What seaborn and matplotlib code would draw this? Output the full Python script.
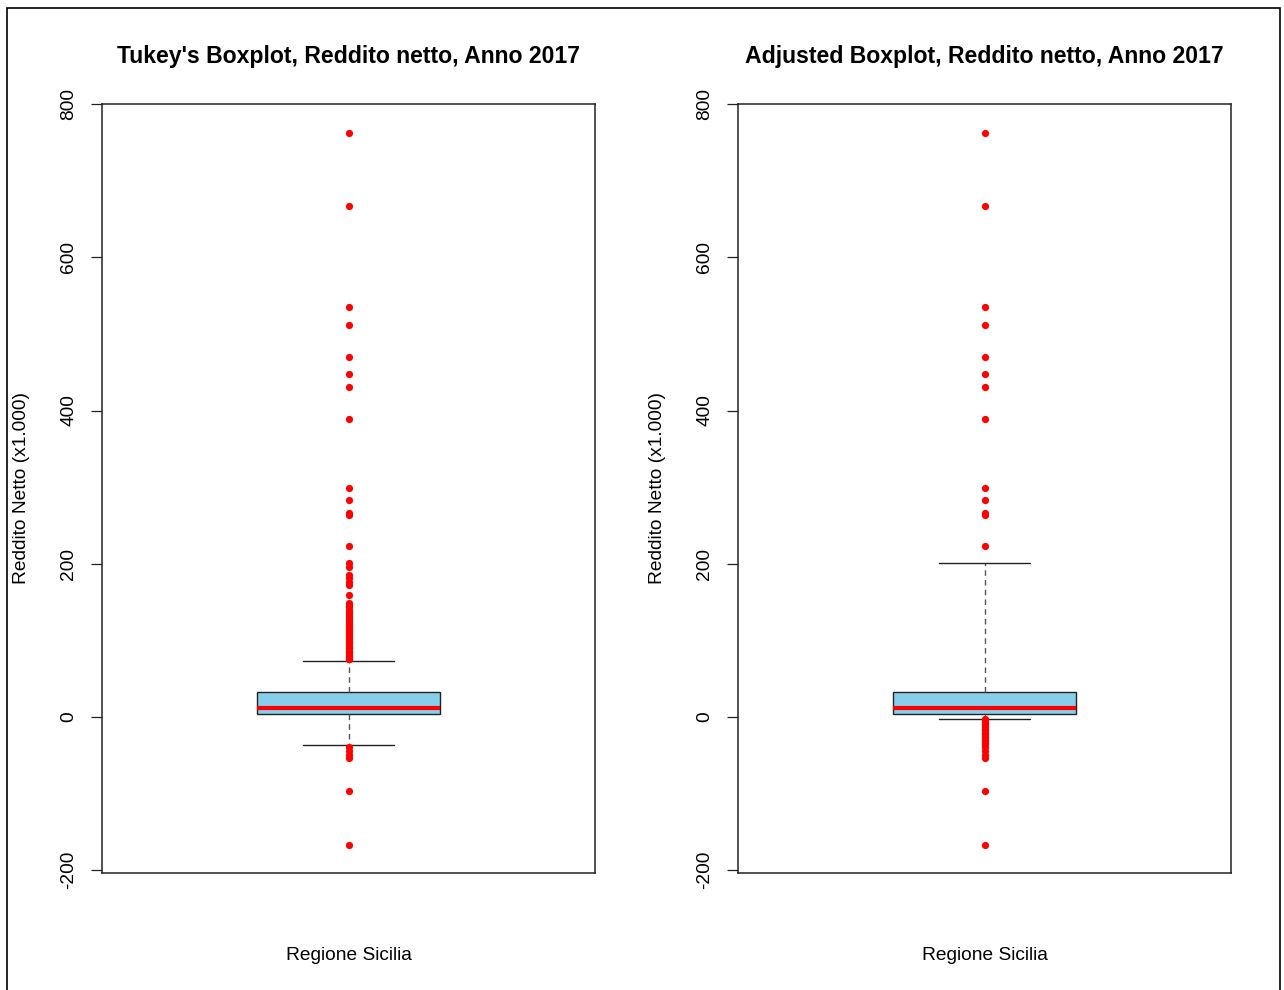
import numpy as np
import pandas as pd
import matplotlib
matplotlib.use("Agg")
import matplotlib.pyplot as plt
from matplotlib.patches import Rectangle
import seaborn as sns

sns.set_style("white")
plt.rcParams["font.family"] = ["Liberation Sans", "DejaVu Sans"]
plt.rcParams.update({"text.color": "black", "axes.labelcolor": "black",
                     "xtick.color": "black", "ytick.color": "black"})

# Net income (thousands of euro), tail values lying outside the central box
reddito_alto = [75, 76, 78, 79, 81, 83, 84, 86, 88, 90, 91, 93, 95, 97, 99,
                101, 103, 105, 107, 109, 111, 113, 115, 117, 119, 121, 124,
                126, 129, 131, 134, 137, 140, 143, 146, 149, 159, 172, 176,
                181, 185, 196, 201, 223, 263, 266, 283, 299, 389, 431, 448,
                470, 512, 535, 667, 763]
reddito_basso = [-3, -4, -5, -7, -9, -10, -12, -14, -16, -17, -19, -21, -23,
                 -25, -27, -28, -30, -32, -34, -36, -40, -45, -50, -54, -97,
                 -167]

# Box statistics: lower whisker, Q1, median, Q3, upper whisker
tukey_stats = [-37, 4, 11.5, 32, 73]
adjusted_stats = [-2.4, 4, 11.5, 32, 201]

titoli = ["Tukey's Boxplot, Reddito netto, Anno 2017",
          "Adjusted Boxplot, Reddito netto, Anno 2017"]
yticks = [-200, 0, 200, 400, 600, 800]
xlabel = "Regione Sicilia"
ylabel = "Reddito Netto (x1.000)"

valori = np.array(reddito_alto + reddito_basso, dtype=float)

W, H = 1284, 990
fig = plt.figure(figsize=(W / 100, H / 100), dpi=100)
fig.patch.set_facecolor("white")

# Outer device frame
fig.patches.append(Rectangle((7 / W, -0.05), (1280 - 7) / W, 1.05 - 8 / H,
                             transform=fig.transFigure, fill=False,
                             edgecolor="black", linewidth=1.2))

ax_bottom = 1 - 873 / H
ax_height = (873 - 104) / H
lefts = [102 / W, 738 / W]
ax_width = (595 - 102) / W

LINE = "#222222"
for left, stats, titolo in zip(lefts, [tukey_stats, adjusted_stats], titoli):
    ax = fig.add_axes([left, ax_bottom, ax_width, ax_height])
    box_df = pd.DataFrame({"reddito": stats})
    sns.boxplot(data=box_df, y="reddito", ax=ax, whis=(0, 100),
                showfliers=False, width=0.37, color="#87CEEB", saturation=1,
                linecolor=LINE, linewidth=1.0,
                medianprops={"color": "red", "linewidth": 3.0},
                whiskerprops={"linestyle": (0, (4, 3)), "color": "#555555"},
                capprops={"color": LINE})
    fuori = valori[(valori < stats[0]) | (valori > stats[-1])]
    sns.stripplot(data=pd.DataFrame({"reddito": fuori}), y="reddito", ax=ax,
                  jitter=False, color="red", size=5.2, linewidth=0, zorder=5)

    ax.set_xlim(-0.5, 0.5)
    ax.set_ylim(-204.2, 800.5)
    ax.set_xticks([])
    ax.set_yticks(yticks)
    ax.set_yticklabels([str(t) for t in yticks])
    ax.tick_params(axis="y", direction="out", length=8, width=0.9,
                   color=LINE, pad=10, labelsize=13.8, left=True)
    for lab in ax.get_yticklabels():
        lab.set_rotation(90)
        lab.set_va("center")
        lab.set_ha("right")
    for sp in ax.spines.values():
        sp.set_visible(True)
        sp.set_color(LINE)
        sp.set_linewidth(1.1)

    ax.set_xlabel(xlabel, fontsize=13.8)
    ax.xaxis.set_label_coords(0.5, -(955 - 873) / (873 - 104))
    ax.xaxis.label.set_va("center")
    ax.set_ylabel(ylabel, fontsize=13.8)
    ax.yaxis.set_label_coords(-(102 - 22) / (595 - 102), 0.5)
    ax.yaxis.label.set_va("center")
    ax.set_title(titolo, fontsize=16.6, fontweight="bold",
                 y=1 + (104 - 57) / (873 - 104), pad=0, va="center")

fig.savefig("out.png", dpi=100, facecolor="white")
